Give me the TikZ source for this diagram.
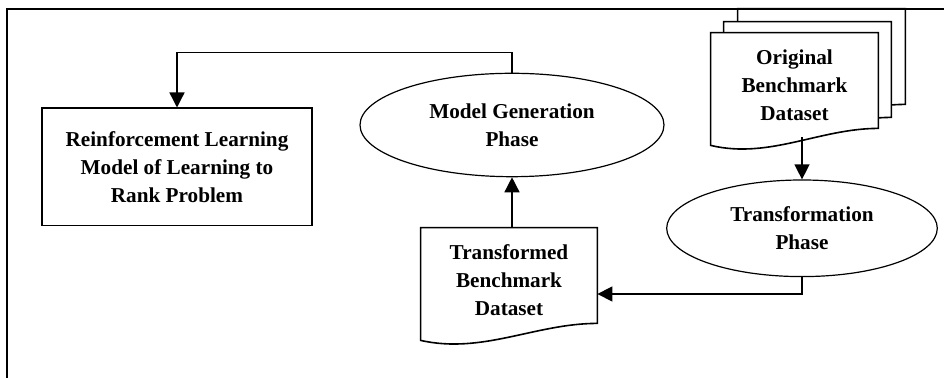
\documentclass[tikz,border=0pt]{standalone}
\usepackage{fontspec}
\setmainfont{Liberation Serif}
\usetikzlibrary{arrows.meta,positioning,shapes.geometric,backgrounds,calc}

\begin{document}
\begin{tikzpicture}[x=0.5pt,y=-0.5pt,
    font=\fontsize{10.6}{14}\selectfont\bfseries,
    >={Triangle[length=7.5pt,width=7.5pt]},
    box/.style={draw,line width=0.8pt,minimum width=135pt,minimum height=58.7pt,
                align=center,inner sep=0pt},
    phase/.style={ellipse,draw,line width=0.6pt,align=center,inner sep=0pt},
    docbox/.style={minimum width=83.5pt,minimum height=52pt,align=center,inner sep=0pt},
    docline/.style={draw,line width=0.8pt,fill=white},
    flow/.style={->,line width=0.7pt}]
  \useasboundingbox (0,0) rectangle (944,378);
  % frame
  \draw[line width=1.1pt] (7,378) -- (7,9) -- (944,9);

  \node[box] (rl) at (177,167) {Reinforcement Learning\\Model of Learning to\\Rank Problem};
  \node[phase,minimum width=152pt,minimum height=51.7pt] (mgen) at (512,125)
    {Model Generation\\Phase};
  \node[phase,minimum width=135.3pt,minimum height=48.3pt] (trans) at (802,228.3)
    {Transformation\\Phase};
  \node[docbox] (orig) at (794.5,85) {Original\\Benchmark\\Dataset};
  \node[docbox] (origb) at ([shift={(6.5pt,5.5pt)}]orig.center) {};
  \node[docbox] (origc) at ([shift={(13.5pt,12pt)}]orig.center) {};
  \node[docbox,minimum width=88pt] (tdoc) at (509,280) {Transformed\\Benchmark\\Dataset};

  % document outlines, back to front
  \begin{scope}[on background layer]
    \foreach \d in {origc,origb,orig,tdoc}
      \draw[docline] ([yshift=-4pt]\d.south west) -- (\d.north west) -- (\d.north east)
        -- ([yshift=4.5pt]\d.south east)
        .. controls ($(\d.south east)!0.35!(\d.south west)+(0,4.5pt)$)
        and ($(\d.south west)!0.35!(\d.south east)+(0,-11pt)$) .. ([yshift=-4pt]\d.south west)
        -- cycle;
  \end{scope}

  \draw[flow] (mgen.north) -- ++(0,-20.3) -| (rl.north);
  \draw[flow] (mgen.south |- tdoc.north) -- (mgen.south);
  \draw[flow] (orig.south -| trans.north) -- (trans.north);
  \draw[flow] (trans.south) |- ([yshift=-7pt]tdoc.east);
\end{tikzpicture}
\end{document}
